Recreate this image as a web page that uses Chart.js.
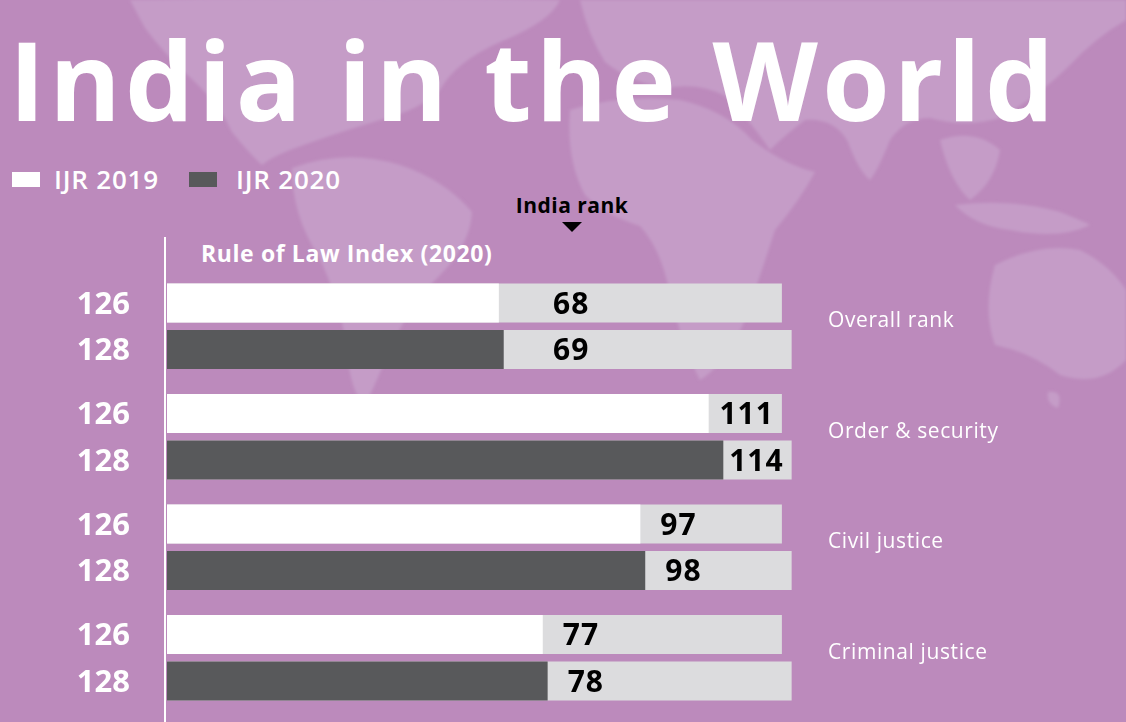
<!DOCTYPE html>
<html>
<head>
<meta charset="utf-8">
<script src="https://cdn.jsdelivr.net/npm/chart.js@4.4.1/dist/chart.umd.min.js"></script>
<style>
    html, body { margin: 0; padding: 0; }
    body { width: 1126px; height: 722px; background: #bc8abc; position: relative; overflow: hidden; font-family: "Open Sans", sans-serif; }
    #map { position: absolute; left: 0; top: 0; }
    #title { position: absolute; left: 9px; top: 24px; color: #fff; font-weight: 700; font-size: 109px; line-height: 1; white-space: nowrap; letter-spacing: 4.2px; }
    .sq { position: absolute; top: 172px; width: 28px; height: 15px; }
    .leg { position: absolute; top: 163px; color: #fff; font-size: 26px; font-weight: 600; line-height: 32px; letter-spacing: 0.8px; white-space: nowrap; }
    #rankHead { position: absolute; left: 572px; top: 191px; transform: translateX(-50%); font-size: 21px; font-weight: 700; color: #000; white-space: nowrap; letter-spacing: 0.5px; }
    #arrow { position: absolute; left: 562px; top: 222px; width: 0; height: 0; border-left: 10px solid transparent; border-right: 10px solid transparent; border-top: 10px solid #000; }
    #sub { position: absolute; left: 201px; top: 237px; font-size: 23px; font-weight: 700; color: #fff; white-space: nowrap; letter-spacing: 0.6px; }
    #wrap { position: absolute; left: 0; top: 0; width: 1126px; height: 722px; }
</style>
</head>
<body>
<!-- rough world map behind everything -->
<svg id="map" width="1126" height="722" viewBox="0 0 1126 722">
    <defs><filter id="soft"><feGaussianBlur stdDeviation="1.5"/></filter></defs>
    <g fill="#c59cc7" filter="url(#soft)" stroke-linejoin="round">
        <path d="M130,0 Q350,-4 560,0 Q550,22 500,42 Q455,62 440,90 Q420,110 380,120 Q330,135 290,150 Q270,158 262,165 Q248,152 232,132 Q220,105 195,82 Q165,55 145,28 Z"/>
        <path d="M292,168 Q345,148 400,165 Q445,180 472,212 Q470,245 440,275 Q410,305 392,345 Q375,385 365,405 Q350,392 347,350 Q340,300 318,255 Q292,215 292,168 Z"/>
        <path d="M580,0 L1126,0 L1126,20 Q1095,38 1070,65 Q1040,95 1000,118 Q965,128 930,118 Q905,118 890,140 Q878,170 870,180 Q858,170 848,142 Q835,118 805,120 Q785,135 770,150 Q750,120 725,96 Q700,82 665,88 Q630,82 605,62 Q588,35 580,0 Z"/>
        <path d="M570,110 Q620,94 680,100 Q725,110 752,140 Q785,165 815,172 Q800,200 775,230 Q762,270 745,320 Q725,365 700,380 Q682,345 670,295 Q662,250 640,226 Q605,215 585,195 Q566,160 570,110 Z"/>
        <path d="M750,282 Q764,288 760,308 Q748,304 750,282 Z"/>
        <path d="M940,140 Q975,128 1000,150 Q995,182 970,200 Q950,182 940,140 Z"/>
        <path d="M955,205 Q1010,198 1060,212 Q1085,222 1090,225 Q1060,240 1010,230 Q975,226 955,205 Z"/>
        <path d="M1058,0 Q1088,8 1080,45 Q1070,58 1065,60 Q1058,35 1058,0 Z"/>
        <path d="M995,265 Q1040,242 1080,250 Q1110,265 1126,290 L1126,360 Q1100,388 1060,375 Q1030,352 995,345 Q982,310 995,265 Z"/>
        <path d="M1048,392 Q1064,390 1058,408 Q1046,404 1048,392 Z"/>
    </g>
</svg>
<div id="title">India in the World</div>
<div class="sq" style="left:12px; background:#ffffff"></div>
<div class="leg" style="left:54px">IJR 2019</div>
<div class="sq" style="left:189px; background:#58595b"></div>
<div class="leg" style="left:236px">IJR 2020</div>
<div id="rankHead">India rank</div>
<div id="arrow"></div>
<div id="sub">Rule of Law Index (2020)</div>
<div id="wrap"><canvas id="chart" width="1126" height="722"></canvas></div>

<script>
// data
const categories = ['Overall rank', 'Order & security', 'Civil justice', 'Criminal justice'];
const rank2019 = [68, 111, 97, 77];
const rank2020 = [69, 114, 98, 78];
const countries2019 = [126, 126, 126, 126];
const countries2020 = [128, 128, 128, 128];

const white = '#ffffff', dark = '#58595b', grey = '#dcdcde';

// labels: totals on the left, ranks inside the grey part, categories on the right
const labelPlugin = {
    id: 'labels',
    afterDatasetsDraw(chart) {
        const ctx = chart.ctx;
        const x = chart.scales.x, y = chart.scales.y;
        ctx.save();

        // vertical axis line
        ctx.strokeStyle = '#ffffff';
        ctx.lineWidth = 2;
        ctx.beginPath();
        ctx.moveTo(x.getPixelForValue(0) - 2, 237);
        ctx.lineTo(x.getPixelForValue(0) - 2, 722);
        ctx.stroke();

        ctx.textBaseline = 'middle';
        [[0, 2], [1, 3]].forEach(([ri, ti]) => {
            const rankMeta = chart.getDatasetMeta(ri);
            const totMeta = chart.getDatasetMeta(ti);
            const rankData = chart.data.datasets[ri].data;
            const totData = chart.data.datasets[ti].data;
            rankMeta.data.forEach((bar, i) => {
                const tot = totMeta.data[i];
                // total countries on the left
                ctx.font = '700 31px "Open Sans"';
                ctx.letterSpacing = '0px';
                ctx.fillStyle = '#ffffff';
                ctx.textAlign = 'right';
                ctx.fillText(String(totData[i]), 130, tot.y + 2);
                // India rank
                ctx.font = '700 30px "Open Sans"';
                ctx.letterSpacing = '1px';
                ctx.fillStyle = '#000000';
                ctx.textAlign = 'left';
                const txt = String(rankData[i]);
                const w = ctx.measureText(txt).width;
                let sx = Math.max(bar.x + 20, 553);
                sx = Math.min(sx, tot.x - w - 8);
                ctx.fillText(txt, sx, bar.y + 2);
            });
        });

        ctx.font = '400 21px "Open Sans"';
        ctx.letterSpacing = '0.6px';
        ctx.fillStyle = '#ffffff';
        ctx.textAlign = 'left';
        categories.forEach((c, i) => {
            ctx.fillText(c, 828, y.getPixelForValue(i) - 5);
        });
        ctx.restore();
    }
};

new Chart(document.getElementById('chart'), {
    type: 'bar',
    data: {
        labels: categories,
        datasets: [
            { label: 'IJR 2019', data: rank2019, backgroundColor: white, stack: 's2019', order: 0 },
            { label: 'IJR 2020', data: rank2020, backgroundColor: dark, stack: 's2020', order: 0 },
            { label: 'Countries 2019', data: countries2019, backgroundColor: grey, stack: 's2019', order: 1 },
            { label: 'Countries 2020', data: countries2020, backgroundColor: grey, stack: 's2020', order: 1 }
        ]
    },
    options: {
        indexAxis: 'y',
        responsive: false,
        animation: false,
        datasets: { bar: { barPercentage: 0.84, categoryPercentage: 0.84, borderWidth: 0 } },
        layout: { padding: { left: 167, right: 227, top: 271, bottom: 9 } },
        scales: {
            x: { display: false, min: 0, max: 150, stacked: false },
            y: { display: false }
        },
        plugins: { legend: { display: false }, tooltip: { enabled: false } }
    },
    plugins: [labelPlugin]
});
</script>
</body>
</html>
